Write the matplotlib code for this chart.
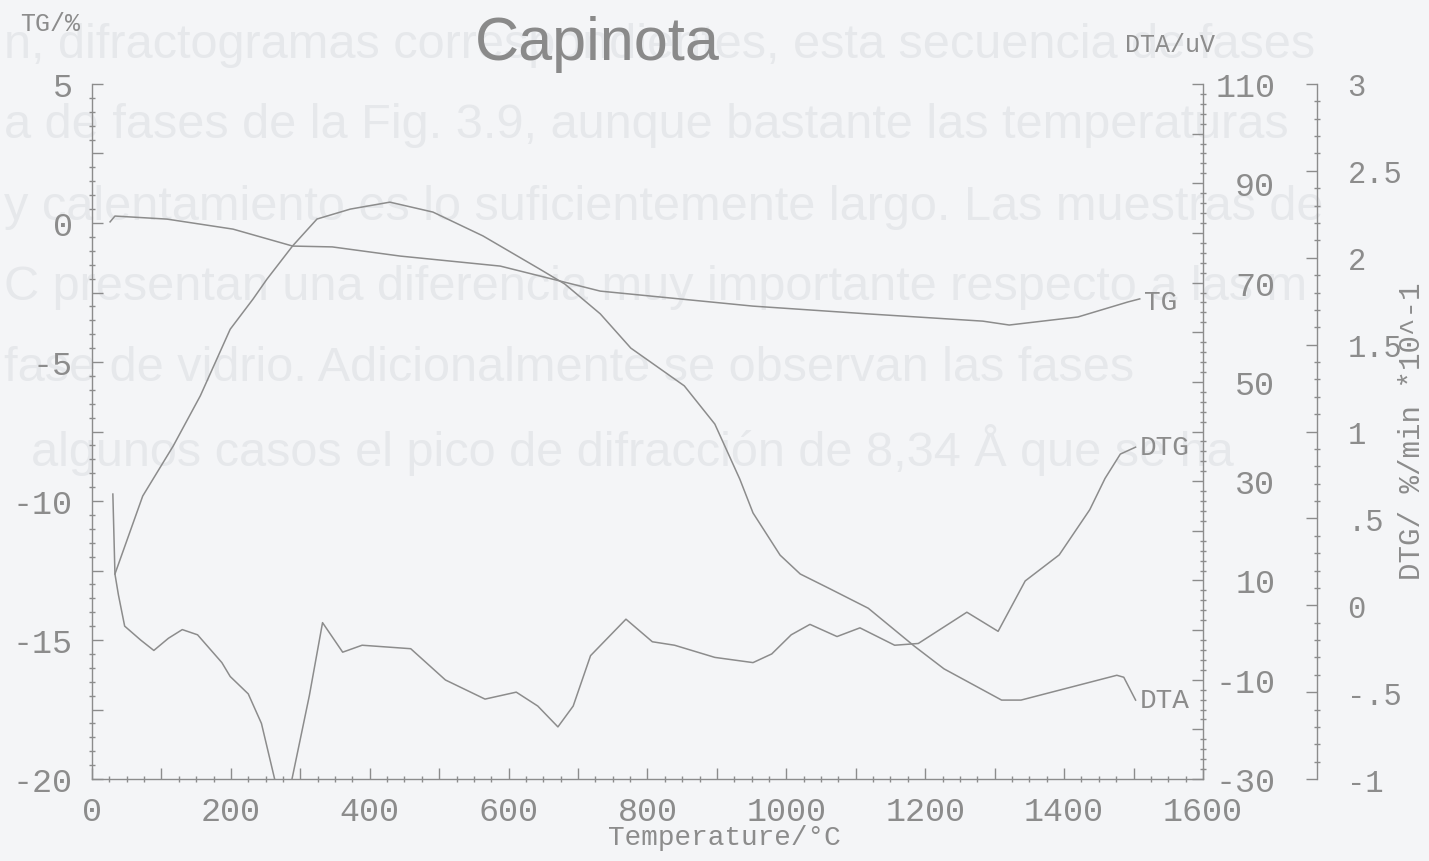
import matplotlib
matplotlib.use('Agg')
import matplotlib.pyplot as plt
from matplotlib.ticker import MultipleLocator, FixedLocator, FuncFormatter

# TG curve (%)
tg_temp = [26, 33, 108, 203, 289, 346, 444, 588, 681, 732, 952, 1118, 1283, 1321, 1420, 1492, 1509]
tg_val = [0.04, 0.25, 0.14, -0.22, -0.83, -0.86, -1.19, -1.55, -2.13, -2.45, -2.99, -3.27, -3.53,
          -3.67, -3.38, -2.84, -2.73]

# DTA curve (uV)
dta_temp = [33, 73, 117, 156, 199, 232, 252, 289, 324, 372, 429, 491, 563, 645, 681, 732, 776,
            853, 897, 933, 952, 991, 1020, 1063, 1118, 1184, 1227, 1310, 1338, 1476, 1486, 1503]
dta_val = [11.3, 27.0, 37.1, 47.2, 60.6, 66.7, 70.7, 77.4, 82.8, 84.8, 86.2, 84.2, 79.4, 72.7,
           69.7, 63.7, 56.8, 49.2, 41.5, 30.4, 23.6, 15.1, 11.3, 8.3, 4.4, -3.2, -7.8, -14.1,
           -14.1, -9.1, -9.5, -14.1]

# DTG curve (%/min *10^-1)
dtg_temp = [30, 33, 38, 47, 70, 89, 110, 130, 152, 187, 199, 225, 244, 263, 276, 288, 313, 332,
            361, 389, 459, 509, 566, 611, 642, 671, 693, 718, 769, 807, 839, 897, 952, 979, 1007,
            1034, 1073, 1106, 1156, 1190, 1260, 1305, 1344, 1393, 1437, 1459, 1481, 1503]
dtg_val = [0.64, 0.18, 0.06, -0.12, -0.2, -0.26, -0.19, -0.14, -0.17, -0.33, -0.41, -0.51, -0.68,
           -1.0, -1.25, -1.0, -0.52, -0.10, -0.27, -0.23, -0.25, -0.43, -0.54, -0.50, -0.58,
           -0.70, -0.58, -0.29, -0.08, -0.21, -0.23, -0.30, -0.33, -0.28, -0.17, -0.11, -0.18,
           -0.13, -0.23, -0.22, -0.04, -0.15, 0.14, 0.29, 0.55, 0.73, 0.87, 0.91]

dtg_labels = {3: '3', 2.5: '2.5', 2: '2', 1.5: '1.5', 1: '1', 0.5: '.5', 0: '0', -0.5: '-.5', -1: '-1'}

# faint page text showing through the paper
page_lines = [
    'n, difractogramas correspondientes, esta secuencia de fases',
    'a de fases de la Fig. 3.9, aunque bastante las temperaturas',
    'y calentamiento es lo suficientemente largo. Las muestras de',
    'C presentan una diferencia muy importante respecto a las m',
    'fase de vidrio. Adicionalmente se observan las fases',
    '  algunos casos el pico de difracción de 8,34 Å que se ha',
]

bg = '#f4f5f7'
ink = '#8c8c8c'
mono = 'Liberation Mono'

fig = plt.figure(figsize=(14.29, 8.62), dpi=100, facecolor=bg)

for i, line in enumerate(page_lines):
    fig.text(0.003, 1 - (45 + 81 * i) / 862, line, fontsize=35, family='Liberation Sans',
             color='#e6e8eb', ha='left', va='center', zorder=-1)

ax = fig.add_axes([0.0644, 0.0951, 0.7774, 0.8063])
ax.set_facecolor('none')
ax2 = ax.twinx()
ax3 = ax.twinx()
ax3.spines['right'].set_position(('axes', 1.1026))

for a in (ax, ax2, ax3):
    a.patch.set_visible(False)
    for s in a.spines.values():
        s.set_visible(False)
        s.set_color(ink)
        s.set_linewidth(1.0)

ax.spines['left'].set_visible(True)
ax.spines['bottom'].set_visible(True)
ax2.spines['right'].set_visible(True)
ax3.spines['right'].set_visible(True)

lw = 1.1
ax.plot(tg_temp, tg_val, color=ink, lw=lw)
ax2.plot(dta_temp, dta_val, color=ink, lw=lw)
ax3.plot(dtg_temp, dtg_val, color=ink, lw=lw)

ax.set_xlim(0, 1600)
ax.set_ylim(-20, 5)
ax2.set_ylim(-30, 110)
ax3.set_ylim(-1, 3)

# temperature axis
ax.xaxis.set_major_locator(MultipleLocator(100))
ax.xaxis.set_minor_locator(MultipleLocator(25))
ax.xaxis.set_major_formatter(FuncFormatter(lambda v, p: '%d' % v if v % 200 == 0 else ''))
ax.tick_params(axis='x', which='major', direction='in', length=8, width=1, color=ink,
               labelcolor=ink, labelsize=24, pad=12)
ax.tick_params(axis='x', which='minor', direction='inout', length=5, width=1, color=ink)

# TG axis
ax.yaxis.set_major_locator(MultipleLocator(2.5))
ax.yaxis.set_minor_locator(MultipleLocator(0.5))
ax.yaxis.set_major_formatter(FuncFormatter(lambda v, p: '%d' % v if v % 5 == 0 else ''))
ax.tick_params(axis='y', which='major', direction='in', length=8, width=1, color=ink,
               labelcolor=ink, labelsize=24, pad=14)
ax.tick_params(axis='y', which='minor', direction='inout', length=5, width=1, color=ink)

# DTA axis
ax2.yaxis.set_major_locator(MultipleLocator(10))
ax2.yaxis.set_minor_locator(MultipleLocator(2))
ax2.yaxis.set_major_formatter(FuncFormatter(lambda v, p: '%d' % v if (v - 10) % 20 == 0 else ''))
ax2.tick_params(axis='y', which='major', direction='in', length=8, width=1, color=ink,
                labelcolor=ink, labelsize=24, pad=52)
ax2.tick_params(axis='y', which='minor', direction='inout', length=5, width=1, color=ink)

# DTG axis
ax3.yaxis.set_major_locator(FixedLocator(list(dtg_labels.keys())))
ax3.yaxis.set_minor_locator(MultipleLocator(0.1))
ax3.yaxis.set_major_formatter(FuncFormatter(lambda v, p: dtg_labels.get(round(v, 1), '')))
ax3.tick_params(axis='y', which='major', direction='in', length=8, width=1, color=ink,
                labelcolor=ink, labelsize=22, pad=22)
ax3.tick_params(axis='y', which='minor', direction='inout', length=5, width=1, color=ink)

for a in (ax, ax2, ax3):
    for lab in a.get_xticklabels() + a.get_yticklabels():
        lab.set_family(mono)
for lab in ax2.get_yticklabels():
    lab.set_ha('right')

# curve names at the end of each trace
ax.text(tg_temp[-1] + 6, tg_val[-1] - 0.1, 'TG', family=mono, fontsize=20, color=ink,
        ha='left', va='center')
ax3.text(dtg_temp[-1] + 6, dtg_val[-1], 'DTG', family=mono, fontsize=20, color=ink,
         ha='left', va='center')
ax2.text(dta_temp[-1] + 6, dta_val[-1], 'DTA', family=mono, fontsize=20, color=ink,
         ha='left', va='center')

fig.text(0.418, 0.948, 'Capinota', fontsize=44, family='Liberation Sans', color='#8a8a8a',
         ha='center', va='center')
fig.text(0.035, 0.972, 'TG/%', fontsize=18, family=mono, color=ink, ha='center', va='center')
fig.text(0.819, 0.948, 'DTA/uV', fontsize=18, family=mono, color=ink, ha='center', va='center')
fig.text(0.507, 0.028, 'Temperature/°C', fontsize=20, family=mono, color=ink,
         ha='center', va='center')
fig.text(0.988, 0.5, 'DTG/ %/min *10^-1', fontsize=21, family=mono, color=ink,
         ha='center', va='center', rotation=90)

fig.savefig('out.png', dpi=100, facecolor=bg)
